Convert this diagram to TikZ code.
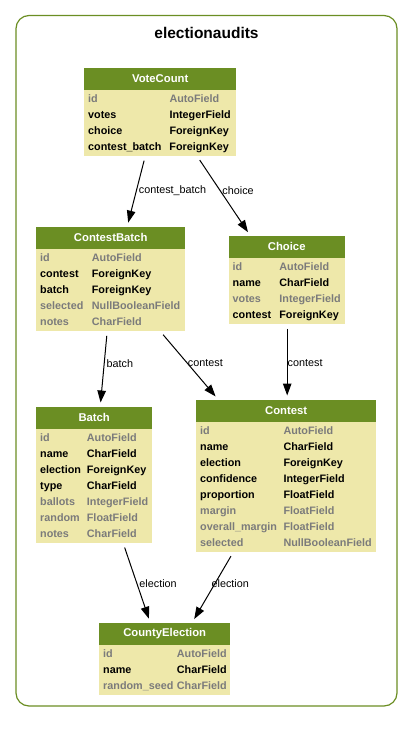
\documentclass[tikz,border=0pt]{standalone}
\usepackage{fontspec}
\setmainfont{Liberation Sans}
\usepackage{tikz}
\usetikzlibrary{positioning}
\usetikzlibrary{arrows.meta}

\definecolor{headgreen}{HTML}{6B8E23}
\definecolor{bodyyellow}{HTML}{EEE8AA}
\definecolor{fieldgrey}{HTML}{7B7B7B}
\newcommand{\gry}[1]{\textcolor{fieldgrey}{#1}}

\tikzset{
	modelhead/.style={fill=headgreen, text=white, inner sep=0pt, minimum height=22pt, anchor=north west,
		font=\fontsize{11.3}{13}\selectfont\bfseries},
	modelbody/.style={fill=bodyyellow, inner xsep=0pt, inner ysep=1pt,
		font=\fontsize{10.8}{16}\selectfont\bfseries},
	fk/.style={draw, line width=1pt, -{Triangle[length=12pt,width=8.5pt]}, shorten <=4.5pt, shorten >=4pt},
	fklabel/.style={font=\fontsize{10.8}{13}\selectfont, inner sep=2pt}
}

\begin{document}
\begin{tikzpicture}[x=1pt,y=-1pt]
		\useasboundingbox (0,0) rectangle (413,744);
		% app cluster
		\draw[headgreen, line width=1.2pt, rounded corners=13pt] (16,15.5) rectangle (397,706);
		\node[font=\fontsize{15.5}{18}\selectfont\bfseries] (title) at (206.5,33) {electionaudits};
		% models
		\node[modelhead, minimum width=152pt] (votecount-h) at (84,67.5) {VoteCount};
		\node[modelbody, below=0pt of votecount-h] (votecount) {\begin{tabular}{@{\hspace{4pt}}p{81.3pt}@{}p{66.7pt}@{}}
			\gry{id} & \gry{AutoField}\\
			votes & IntegerField\\
			choice & ForeignKey\\
			contest\_batch & ForeignKey
		\end{tabular}};
		\node[modelhead, minimum width=149pt] (contestbatch-h) at (36,226.5) {ContestBatch};
		\node[modelbody, below=0pt of contestbatch-h] (contestbatch) {\begin{tabular}{@{\hspace{4pt}}p{51.7pt}@{}p{93.3pt}@{}}
			\gry{id} & \gry{AutoField}\\
			contest & ForeignKey\\
			batch & ForeignKey\\
			\gry{selected} & \gry{NullBooleanField}\\
			\gry{notes} & \gry{CharField}
		\end{tabular}};
		\node[modelhead, minimum width=116pt] (choice-h) at (228.5,235.5) {Choice};
		\node[modelbody, below=0pt of choice-h] (choice) {\begin{tabular}{@{\hspace{4pt}}p{46.7pt}@{}p{65.3pt}@{}}
			\gry{id} & \gry{AutoField}\\
			name & CharField\\
			\gry{votes} & \gry{IntegerField}\\
			contest & ForeignKey
		\end{tabular}};
		\node[modelhead, minimum width=116pt] (batch-h) at (36,406.5) {Batch};
		\node[modelbody, below=0pt of batch-h] (batch) {\begin{tabular}{@{\hspace{4pt}}p{46.7pt}@{}p{65.3pt}@{}}
			\gry{id} & \gry{AutoField}\\
			name & CharField\\
			election & ForeignKey\\
			type & CharField\\
			\gry{ballots} & \gry{IntegerField}\\
			\gry{random} & \gry{FloatField}\\
			\gry{notes} & \gry{CharField}
		\end{tabular}};
		\node[modelhead, minimum width=180pt] (contest-h) at (196,399.5) {Contest};
		\node[modelbody, below=0pt of contest-h] (contest) {\begin{tabular}{@{\hspace{4pt}}p{83.3pt}@{}p{92.7pt}@{}}
			\gry{id} & \gry{AutoField}\\
			name & CharField\\
			election & ForeignKey\\
			confidence & IntegerField\\
			proportion & FloatField\\
			\gry{margin} & \gry{FloatField}\\
			\gry{overall\_margin} & \gry{FloatField}\\
			\gry{selected} & \gry{NullBooleanField}
		\end{tabular}};
		\node[modelhead, minimum width=131pt] (countyelection-h) at (99,622.5) {CountyElection};
		\node[modelbody, below=0pt of countyelection-h] (countyelection) {\begin{tabular}{@{\hspace{4pt}}p{73.7pt}@{}p{53.3pt}@{}}
			\gry{id} & \gry{AutoField}\\
			name & CharField\\
			\gry{random\_seed} & \gry{CharField}
		\end{tabular}};
		% foreign keys
		\draw[fk] ([xshift=-15pt]votecount.south) -- ([xshift=16.5pt]contestbatch-h.north)
			node[fklabel, pos=.49, right] {contest\_batch};
		\draw[fk] ([xshift=37pt]votecount.south) -- ([xshift=-36.5pt]choice-h.north)
			node[fklabel, pos=.43, right] {choice};
		\draw[fk] ([xshift=-3.5pt]contestbatch.south) -- ([xshift=6pt]batch-h.north)
			node[fklabel, pos=.43, right] {batch};
		\draw[fk] ([xshift=49.5pt]contestbatch.south) -- ([xshift=-68pt]contest-h.north)
			node[fklabel, pos=.47, right, inner sep=0pt] {contest};
		\draw[fk] ([xshift=0.5pt]choice.south) -- ([xshift=1pt]contest-h.north)
			node[fklabel, pos=.52, right, inner sep=0pt] {contest};
		\draw[fk] ([xshift=29pt]batch.south) -- ([xshift=-14.5pt]countyelection-h.north)
			node[fklabel, pos=.51, right] {election};
		\draw[fk] ([xshift=-53pt]contest.south) -- ([xshift=27.5pt]countyelection-h.north)
			node[fklabel, pos=.44, right, inner sep=0pt, xshift=-4pt] {election};
\end{tikzpicture}
\end{document}
